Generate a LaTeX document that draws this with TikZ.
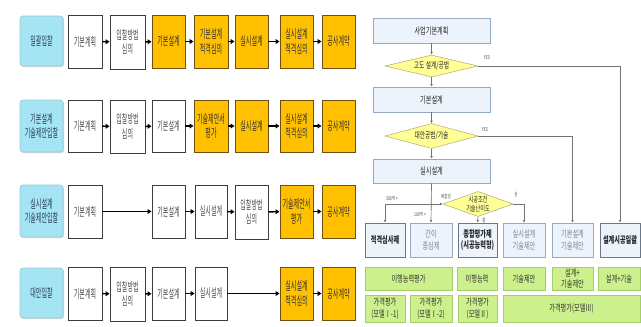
\documentclass[tikz,border=0pt]{standalone}
\usepackage{fontspec}
\setmainfont{Noto Sans CJK KR}
\newfontfamily\krA[FakeStretch=0.5]{Noto Sans CJK KR}
\newfontfamily\krB[FakeStretch=0.66]{Noto Sans CJK KR}
\usetikzlibrary{shapes.geometric,arrows.meta,shadows}
\definecolor{lblue}{RGB}{165,228,242}
\definecolor{lbtext}{RGB}{40,60,95}
\definecolor{orng}{RGB}{255,192,0}
\definecolor{orngline}{RGB}{110,80,20}
\definecolor{boxline}{RGB}{60,60,60}
\definecolor{flowfill}{RGB}{236,243,251}
\definecolor{flowline}{RGB}{150,170,195}
\definecolor{diafill}{RGB}{255,255,150}
\definecolor{dialine}{RGB}{175,175,120}
\definecolor{grn}{RGB}{204,240,140}
\definecolor{grnline}{RGB}{165,205,105}
\definecolor{fadetext}{RGB}{130,130,140}
\newcommand\bx[7]{\node[#6, minimum width={(#4-#2)*0.75pt}, minimum height={(#5-#3)*0.75pt}] (#1) at ({(#2+#4)/2},{(#3+#5)/2}) {#7};}
\tikzset{
  every node/.style={inner sep=1pt, align=center},
  lbl/.style={draw=lblue!70!gray, fill=lblue, rounded corners=2pt, text=lbtext,
    font=\krA\fontsize{9}{11}\selectfont,
    drop shadow={shadow xshift=0.8pt, shadow yshift=-0.8pt, fill=gray!60}},
  wbox/.style={draw=boxline, line width=0.7pt, fill=white, text=black!70,
    font=\krA\fontsize{9}{11}\selectfont,
    drop shadow={shadow xshift=0.8pt, shadow yshift=-0.8pt, fill=gray!50}},
  obox/.style={draw=orngline, line width=0.7pt, fill=orng, text=black!80,
    font=\krA\fontsize{9}{11}\selectfont,
    drop shadow={shadow xshift=0.8pt, shadow yshift=-0.8pt, fill=gray!50}},
  larr/.style={line width=1.1pt, black, -{Triangle[length=3pt,width=3.6pt]}},
  fbox/.style={draw=flowline, fill=flowfill, text=black!85,
    font=\krB\fontsize{7}{8.5}\selectfont},
  fboxb/.style={fbox, draw=flowline!70!black, line width=0.6pt, font=\krB\bfseries\fontsize{7}{8.5}\selectfont},
  fboxf/.style={fbox, text=fadetext},
  dia/.style={diamond, aspect=3, inner sep=0pt, draw=dialine, fill=diafill, text=black!85,
    font=\krB\fontsize{6.5}{7.5}\selectfont},
  gbox/.style={draw=grnline, fill=grn, text=black!80, font=\krB\fontsize{7}{8.5}\selectfont},
  conn/.style={draw=black!55, line width=0.5pt, -{Latex[length=2pt,width=2pt]}},
  small/.style={font=\krB\fontsize{4}{5}\selectfont, text=black!70, inner sep=0pt},
}
\begin{document}
\begin{tikzpicture}[x=0.75pt,y=-0.75pt]
\useasboundingbox[fill=white] (0,0) rectangle (641,326);
% ---------- Row 1
\bx{l1}{20}{16}{63}{66}{lbl}{일괄입찰}
\bx{r1a}{68}{15}{102}{68}{wbox}{기본계획}
\bx{r1b}{110}{15}{145}{69}{wbox}{입찰방법\\심의}
\bx{r1c}{152}{15}{185}{68}{obox}{기본설계}
\bx{r1d}{194}{15}{228}{68}{obox}{기본설계\\적격심의}
\bx{r1e}{235}{15}{268}{68}{obox}{실시설계}
\bx{r1f}{280}{15}{313}{68}{obox}{실시설계\\적격심의}
\bx{r1g}{322}{15}{355}{68}{obox}{공사계약}
\foreach \a/\b in {r1a/r1b,r1b/r1c,r1c/r1d,r1d/r1e,r1e/r1f,r1f/r1g} \draw[larr] (\a) -- (\b);
% ---------- Row 2
\bx{l2}{20}{100}{63}{152}{lbl}{기본설계\\기술제안입찰}
\bx{r2a}{68}{100}{102}{152}{wbox}{기본계획}
\bx{r2b}{110}{100}{145}{153}{wbox}{입찰방법\\심의}
\bx{r2c}{152}{100}{185}{152}{wbox}{기본설계}
\bx{r2d}{194}{100}{228}{152}{obox}{기술제안서\\평가}
\bx{r2e}{235}{100}{268}{152}{obox}{실시설계}
\bx{r2f}{280}{100}{313}{152}{obox}{실시설계\\적격심의}
\bx{r2g}{322}{100}{355}{152}{obox}{공사계약}
\foreach \a/\b in {r2a/r2b,r2b/r2c,r2c/r2d,r2d/r2e,r2e/r2f,r2f/r2g} \draw[larr] (\a) -- (\b);
% ---------- Row 3
\bx{l3}{20}{185}{63}{237}{lbl}{실시설계\\기술제안입찰}
\bx{r3a}{68}{185}{102}{238}{wbox}{기본계획}
\bx{r3b}{152}{185}{185}{238}{wbox}{기본설계}
\bx{r3c}{195}{185}{227}{238}{wbox}{실시설계}
\bx{r3d}{235}{185}{268}{239}{wbox}{입찰방법\\심의}
\bx{r3e}{280}{185}{313}{238}{obox}{기술제안서\\평가}
\bx{r3f}{322}{185}{355}{238}{obox}{공사계약}
\foreach \a/\b in {r3a/r3b,r3b/r3c,r3c/r3d,r3d/r3e,r3e/r3f} \draw[larr] (\a) -- (\b);
% ---------- Row 4
\bx{l4}{20}{268}{63}{318}{lbl}{대안입찰}
\bx{r4a}{68}{267}{102}{320}{wbox}{기본계획}
\bx{r4b}{110}{267}{145}{321}{wbox}{입찰방법\\심의}
\bx{r4c}{152}{267}{185}{320}{wbox}{기본설계}
\bx{r4d}{195}{267}{227}{320}{wbox}{실시설계}
\bx{r4e}{280}{267}{313}{320}{obox}{실시설계\\적격심의}
\bx{r4f}{322}{267}{355}{320}{obox}{공사계약}
\foreach \a/\b in {r4a/r4b,r4b/r4c,r4c/r4d,r4d/r4e,r4e/r4f} \draw[larr] (\a) -- (\b);
% ---------- Right flowchart
\bx{p1}{373}{18}{490}{43}{fbox}{사업기본계획}
\node[dia, minimum width=69.75pt, minimum height=16.5pt] (d1) at (431.5,66) {고도 설계/공법};
\bx{p2}{373}{87}{490}{112}{fbox}{기본설계}
\node[dia, minimum width=69.75pt, minimum height=18.75pt] (d2) at (431.5,136) {대안공법/기술};
\bx{p3}{373}{159}{490}{183}{fbox}{실시설계}
\node[dia, aspect=2.5, minimum width=52.5pt, minimum height=18pt, font=\krB\fontsize{5.8}{6.5}\selectfont] (d3) at (478,204) {시공조건\\기술난이도};
% result boxes
\bx{b1}{365}{223}{405}{257}{fboxb}{적격심사제}
\bx{b2}{410}{223}{452}{257}{fboxf}{간이\\종심제}
\bx{b3}{458}{223}{497}{257}{fboxb}{종합평가제\\(시공능력형)}
\bx{b4}{503}{223}{545}{257}{fboxf}{실시설계\\기술제안}
\bx{b5}{552}{223}{593}{257}{fboxf}{기본설계\\기술제안}
\bx{b6}{600}{223}{640}{257}{fboxb}{설계시공일괄}
% green rows
\bx{g1}{365}{267}{452}{290}{gbox}{이행능력평가}
\bx{g2}{457}{267}{497}{290}{gbox}{이행능력}
\bx{g3}{503}{267}{545}{290}{gbox}{기술제안}
\bx{g4}{552}{267}{593}{290}{gbox}{설계+\\기술제안}
\bx{g5}{598}{267}{640}{290}{gbox}{설계+기술}
\bx{h1}{365}{295}{405}{322}{gbox}{가격평가\\(모델Ⅰ-1)}
\bx{h2}{410}{295}{452}{322}{gbox}{가격평가\\(모델Ⅰ-2)}
\bx{h3}{458}{295}{497}{322}{gbox}{가격평가\\(모델Ⅱ)}
\bx{h4}{503}{295}{640}{322}{gbox}{가격평가(모델Ⅲ)}
% connectors
\draw[conn] (p1) -- (d1);
\draw[conn] (d1) -- (p2);
\draw[conn] (p2) -- (d2);
\draw[conn] (d2) -- (p3);
\draw[conn] (d1.east) -| (b6.north);
\draw[conn] (d2.east) -| (b5.north);
\coordinate (j) at (431.5,204);
\draw[conn] (p3.south) -- (b2.north);
\draw[conn] (j) -| (b1.north);
\draw[conn] (j) -- (d3.west);
\draw[conn] (d3.east) -| (b4.north);
\draw[conn] (d3.south) -- (b3.north);
% small labels
\node[small] (y1) at (487,58) {YES};
\node[small] (y2) at (485,130) {YES};
\node[small] (s1) at (392,198) {300억 >};
\node[small] (s2) at (420,214) {100억 <};
\node[small] (s3) at (446,196) {복잡성};
\node[small] (s4) at (516,194) {상};
\node[small] (s5) at (484,221) {중};
\end{tikzpicture}
\end{document}
